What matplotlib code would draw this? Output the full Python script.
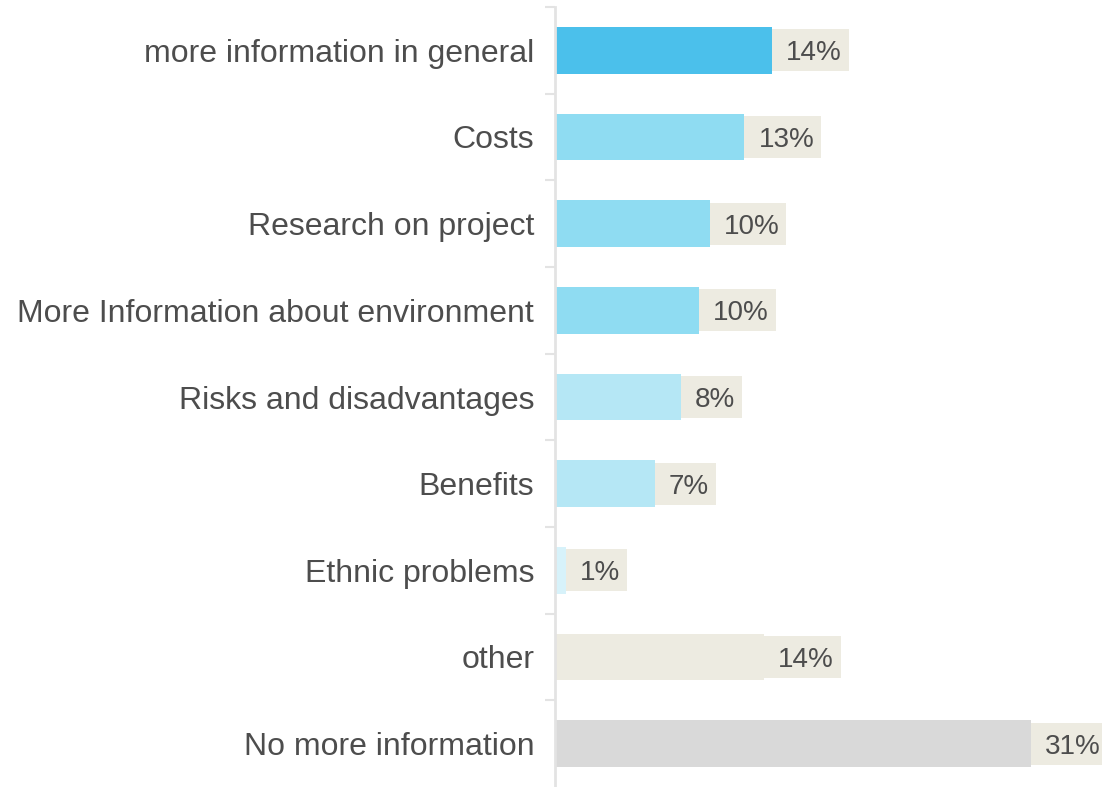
import matplotlib
matplotlib.use("Agg")
import matplotlib.pyplot as plt
from matplotlib.patches import Rectangle
from matplotlib.transforms import IdentityTransform

categories = ["more information in general", "Costs", "Research on project",
              "More Information about environment", "Risks and disadvantages",
              "Benefits", "Ethnic problems", "other", "No more information"]
values = [14.3, 12.5, 10.2, 9.5, 8.3, 6.6, 0.7, 13.8, 31.4]
labels = ["14%", "13%", "10%", "10%", "8%", "7%", "1%", "14%", "31%"]
colors = ["#4BC0EB", "#8FDCF2", "#8FDCF2", "#8FDCF2", "#B5E7F5", "#B5E7F5",
          "#D7F2FA", "#EDEBE1", "#D9D9D9"]

plt.rcParams['font.family'] = ['Liberation Sans', 'DejaVu Sans']
W, H = 1102, 787
fig = plt.figure(figsize=(W / 100, H / 100), dpi=100)
ax = fig.add_axes([555 / W, 0, (W - 555) / W, (H - 7) / H])

n = len(categories)
ypos = list(range(n))
ax.barh(ypos, values, height=0.54, color=colors, zorder=2)
ax.set_ylim(n - 0.5, -0.5)
ax.set_xlim(0, (W - 555) / 476 * 31.4)

for s in ["top", "right", "bottom"]:
    ax.spines[s].set_visible(False)
ax.spines["left"].set_color("#E3E3E3")
ax.spines["left"].set_linewidth(2)
ax.set_xticks([])
ax.set_yticks(ypos)
ax.set_yticklabels(categories, fontsize=23, color="#4D4D4D", va="center_baseline")
ax.tick_params(axis="y", which="major", length=0, pad=15)
ax.set_yticks([i - 0.5 for i in range(n)], minor=True)
ax.tick_params(axis="y", which="minor", length=7, width=1.5, color="#E3E3E3")

texts = []
for i, (v, lab) in enumerate(zip(values, labels)):
    t = ax.annotate(lab, xy=(v, i), xytext=(14, 0), textcoords="offset pixels",
                    ha="left", va="center_baseline", fontsize=20, color="#4D4D4D",
                    zorder=5, annotation_clip=False)
    texts.append(t)

fig.canvas.draw()
r = fig.canvas.get_renderer()
for i, (v, t) in enumerate(zip(values, texts)):
    bb = t.get_window_extent(r)
    x0, yc = ax.transData.transform((v, i))
    rect = Rectangle((x0, yc - 21), bb.x1 + 7 - x0, 42, transform=IdentityTransform(),
                     facecolor="#EDEBE1", edgecolor="none", zorder=3, clip_on=False)
    ax.add_patch(rect)

fig.savefig("out.png", dpi=100)
